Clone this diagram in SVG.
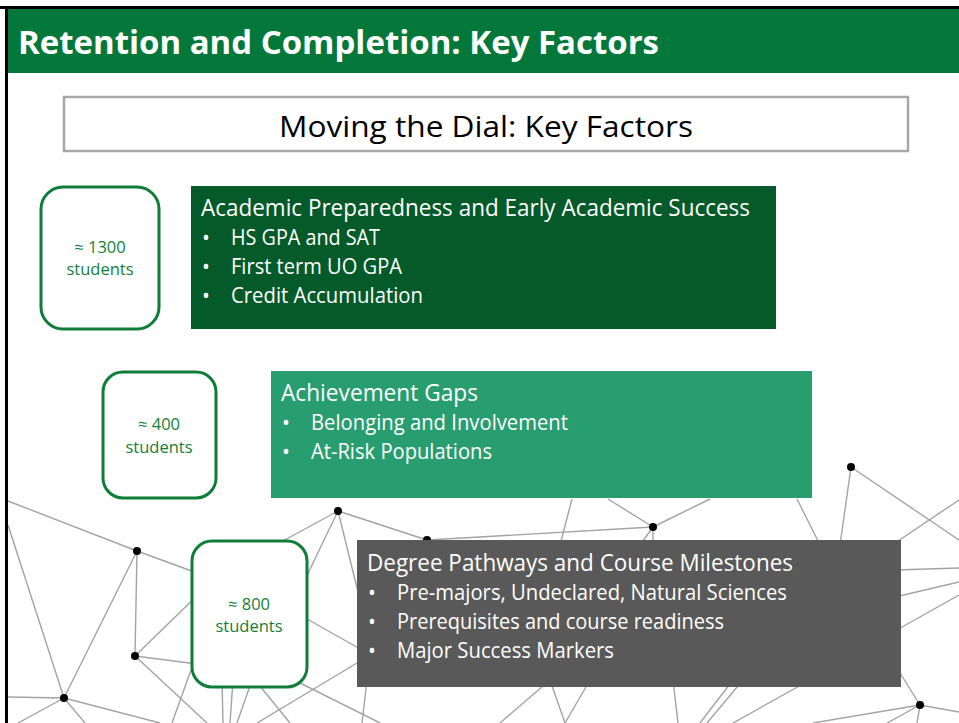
<svg xmlns="http://www.w3.org/2000/svg" width="959" height="723" viewBox="0 0 959 723">
<style>
.net line{stroke:#a3a3a3;stroke-width:1.4}
.dot{fill:#000}
.count{fill:#fff;stroke:#0f7d38;stroke-width:3}
.ct{font-family:"Open Sans","Liberation Sans",sans-serif;font-size:16.5px;fill:#148036;text-anchor:middle}
.hd{font-family:"Open Sans","Liberation Sans",sans-serif;font-size:23px;fill:#fff}
.bl{font-family:"Open Sans","Liberation Sans",sans-serif;font-size:21px;fill:#fff}
</style>
<rect x="0" y="0" width="959" height="723" fill="#fff"/>
<g id="network" class="net">
<line x1="8" y1="501" x2="137" y2="551"/>
<line x1="137" y1="551" x2="230" y2="585"/>
<line x1="8" y1="525" x2="64" y2="698"/>
<line x1="137" y1="551" x2="64" y2="698"/>
<line x1="137" y1="551" x2="135" y2="656"/>
<line x1="135" y1="656" x2="205" y2="588"/>
<line x1="135" y1="656" x2="205" y2="665"/>
<line x1="135" y1="656" x2="207" y2="723"/>
<line x1="8" y1="697" x2="64" y2="698"/>
<line x1="64" y1="698" x2="18" y2="723"/>
<line x1="64" y1="698" x2="85" y2="723"/>
<line x1="64" y1="698" x2="160" y2="723"/>
<line x1="172" y1="723" x2="200" y2="645"/>
<line x1="338" y1="511" x2="270" y2="548"/>
<line x1="338" y1="511" x2="300" y2="590"/>
<line x1="338" y1="511" x2="360" y2="600"/>
<line x1="338" y1="511" x2="427" y2="540"/>
<line x1="300" y1="615" x2="362" y2="650"/>
<line x1="222" y1="680" x2="223" y2="723"/>
<line x1="233" y1="680" x2="230" y2="723"/>
<line x1="252" y1="680" x2="237" y2="723"/>
<line x1="255" y1="680" x2="290" y2="723"/>
<line x1="300" y1="683" x2="380" y2="723"/>
<line x1="362" y1="660" x2="257" y2="723"/>
<line x1="367" y1="680" x2="362" y2="723"/>
<line x1="427" y1="540" x2="653" y2="527"/>
<line x1="653" y1="527" x2="608" y2="499"/>
<line x1="653" y1="527" x2="710" y2="499"/>
<line x1="572" y1="499" x2="560" y2="545"/>
<line x1="653" y1="527" x2="653" y2="545"/>
<line x1="653" y1="527" x2="640" y2="545"/>
<line x1="851" y1="467" x2="840" y2="545"/>
<line x1="851" y1="467" x2="959" y2="540"/>
<line x1="797" y1="499" x2="820" y2="545"/>
<line x1="892" y1="545" x2="959" y2="500"/>
<line x1="895" y1="570" x2="959" y2="568"/>
<line x1="895" y1="597" x2="959" y2="582"/>
<line x1="895" y1="631" x2="959" y2="595"/>
<line x1="895" y1="665" x2="920" y2="705"/>
<line x1="920" y1="705" x2="959" y2="712"/>
<line x1="920" y1="705" x2="917" y2="723"/>
<line x1="920" y1="705" x2="887" y2="723"/>
<line x1="920" y1="705" x2="813" y2="723"/>
<line x1="700" y1="723" x2="733" y2="680"/>
<line x1="733" y1="723" x2="810" y2="680"/>
<line x1="500" y1="723" x2="550" y2="680"/>
<line x1="550" y1="680" x2="565" y2="723"/>
<line x1="565" y1="723" x2="590" y2="680"/>
<line x1="673" y1="680" x2="678" y2="723"/>
<line x1="707" y1="723" x2="743" y2="680"/>
<circle class="dot" cx="137" cy="551" r="4"/>
<circle class="dot" cx="135" cy="656" r="4"/>
<circle class="dot" cx="64" cy="698" r="4"/>
<circle class="dot" cx="338" cy="511" r="4"/>
<circle class="dot" cx="427" cy="540" r="4"/>
<circle class="dot" cx="653" cy="527" r="4"/>
<circle class="dot" cx="851" cy="467" r="4"/>
<circle class="dot" cx="920" cy="705" r="4"/>
</g>
<g id="frame">
<rect x="0" y="6" width="959" height="3" fill="#000"/>
<rect x="5" y="6" width="3" height="717" fill="#000"/>
</g>
<g id="header">
<rect x="8" y="9" width="951" height="64" fill="#04783a"/>
<text x="18" y="54" font-family="'Open Sans','Liberation Sans',sans-serif" font-weight="bold" font-size="32" fill="#fff" textLength="641" lengthAdjust="spacingAndGlyphs">Retention and Completion: Key Factors</text>
</g>
<g id="subtitle">
<rect x="64" y="97" width="844" height="54" fill="#fff" stroke="#a6a6a6" stroke-width="2.5"/>
<text x="279" y="137" font-family="'Open Sans','Liberation Sans',sans-serif" font-size="30" fill="#000" textLength="414" lengthAdjust="spacingAndGlyphs">Moving the Dial: Key Factors</text>
</g>
<g id="count1300">
<rect class="count" x="41" y="187" width="118" height="142" rx="22"/>
<text class="ct" x="100" y="253">≈ 1300</text>
<text class="ct" x="100" y="275">students</text>
</g>
<g id="academic">
<rect x="191" y="186" width="585" height="143" fill="#045a29"/>
<text class="hd" x="201" y="216" textLength="549" lengthAdjust="spacingAndGlyphs">Academic Preparedness and Early Academic Success</text>
<text class="bl" x="202" y="245">•</text>
<text class="bl" x="231" y="245" textLength="149" lengthAdjust="spacingAndGlyphs">HS GPA and SAT</text>
<text class="bl" x="202" y="274">•</text>
<text class="bl" x="231" y="274" textLength="171" lengthAdjust="spacingAndGlyphs">First term UO GPA</text>
<text class="bl" x="202" y="303">•</text>
<text class="bl" x="231" y="303" textLength="192" lengthAdjust="spacingAndGlyphs">Credit Accumulation</text>
</g>
<g id="count400">
<rect class="count" x="103" y="372" width="113" height="126" rx="20"/>
<text class="ct" x="159" y="430">≈ 400</text>
<text class="ct" x="159" y="453">students</text>
</g>
<g id="gaps">
<rect x="271" y="371" width="541" height="127" fill="#289d70"/>
<text class="hd" x="281" y="401" textLength="197" lengthAdjust="spacingAndGlyphs">Achievement Gaps</text>
<text class="bl" x="282" y="430">•</text>
<text class="bl" x="311" y="430" textLength="257" lengthAdjust="spacingAndGlyphs">Belonging and Involvement</text>
<text class="bl" x="282" y="459">•</text>
<text class="bl" x="311" y="459" textLength="181" lengthAdjust="spacingAndGlyphs">At-Risk Populations</text>
</g>
<g id="count800">
<rect class="count" x="192" y="541" width="115" height="146" rx="20"/>
<text class="ct" x="249" y="610">≈ 800</text>
<text class="ct" x="249" y="632">students</text>
</g>
<g id="pathways">
<rect x="357" y="540" width="544" height="147" fill="#595959"/>
<text class="hd" x="367" y="571" textLength="426" lengthAdjust="spacingAndGlyphs">Degree Pathways and Course Milestones</text>
<text class="bl" x="368" y="600">•</text>
<text class="bl" x="397" y="600" textLength="390" lengthAdjust="spacingAndGlyphs">Pre-majors, Undeclared, Natural Sciences</text>
<text class="bl" x="368" y="629">•</text>
<text class="bl" x="397" y="629" textLength="327" lengthAdjust="spacingAndGlyphs">Prerequisites and course readiness</text>
<text class="bl" x="368" y="658">•</text>
<text class="bl" x="397" y="658" textLength="217" lengthAdjust="spacingAndGlyphs">Major Success Markers</text>
</g>
</svg>
